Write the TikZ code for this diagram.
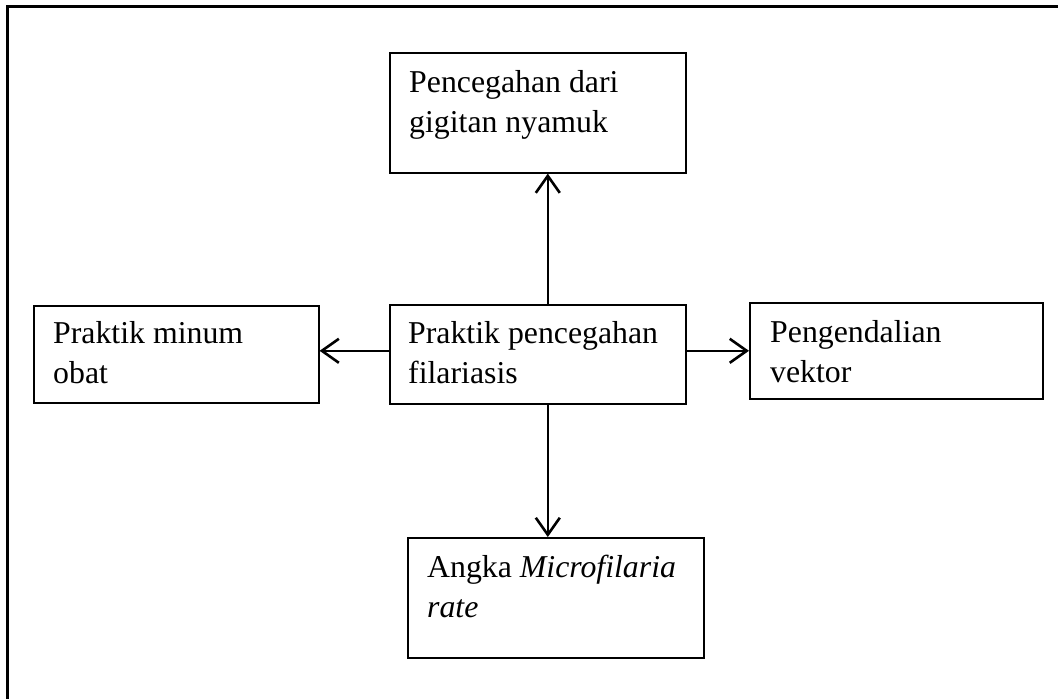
\documentclass[tikz,border=0pt]{standalone}
\usepackage{fontspec}
\setmainfont{Liberation Serif}
\usetikzlibrary{arrows.meta,calc}
\begin{document}
\begin{tikzpicture}[x=1pt,y=-1pt,
  box/.style={draw,line width=1.6pt,rectangle,inner sep=0pt,anchor=north west},
  txt/.style={anchor=base west,inner sep=0pt,font=\fontsize{31.8}{40}\selectfont},
  arr/.style={line width=2.6pt,-{Straight Barb[length=17pt,width=24pt,line width=2.6pt]}}]
\useasboundingbox (0,0) rectangle (1058,699);
\draw[line width=3pt] (7,699) -- (7,6) -- (1058,6);
\node[box,minimum width=296,minimum height=120] (top) at (389,52) {};
\node[box,minimum width=296,minimum height=99] (center) at (389,304) {};
\node[box,minimum width=285,minimum height=97] (left) at (33,305) {};
\node[box,minimum width=293,minimum height=96] (right) at (749,302) {};
\node[box,minimum width=296,minimum height=120] (bottom) at (407,537) {};
\node[txt] (top1) at ($(top.north west)+(20,40)$) {Pencegahan dari};
\node[txt] (top2) at ($(top.north west)+(20,80)$) {gigitan nyamuk};
\node[txt] (c1) at ($(center.north west)+(19,39)$) {Praktik pencegahan};
\node[txt] (c2) at ($(center.north west)+(19,79)$) {filariasis};
\node[txt] (l1) at ($(left.north west)+(20,38)$) {Praktik minum};
\node[txt] (l2) at ($(left.north west)+(20,78)$) {obat};
\node[txt] (r1) at ($(right.north west)+(21,40)$) {Pengendalian};
\node[txt] (r2) at ($(right.north west)+(21,80)$) {vektor};
\node[txt] (b1) at ($(bottom.north west)+(20,40)$) {Angka \textit{Microfilaria}};
\node[txt] (b2) at ($(bottom.north west)+(20,80)$) {\textit{rate}};
\coordinate (cu) at ($(center.north)+(10,0)$);
\coordinate (cd) at ($(center.south)+(10,0)$);
\coordinate (cl) at ($(center.west)+(0,-3.5)$);
\coordinate (cr) at ($(center.east)+(0,-3.5)$);
\draw[arr] (cu) -- (cu |- top.south);
\draw[arr] (cd) -- (cd |- bottom.north);
\draw[arr] (cl) -- (cl -| left.east);
\draw[arr] (cr) -- (cr -| right.west);
\end{tikzpicture}
\end{document}
